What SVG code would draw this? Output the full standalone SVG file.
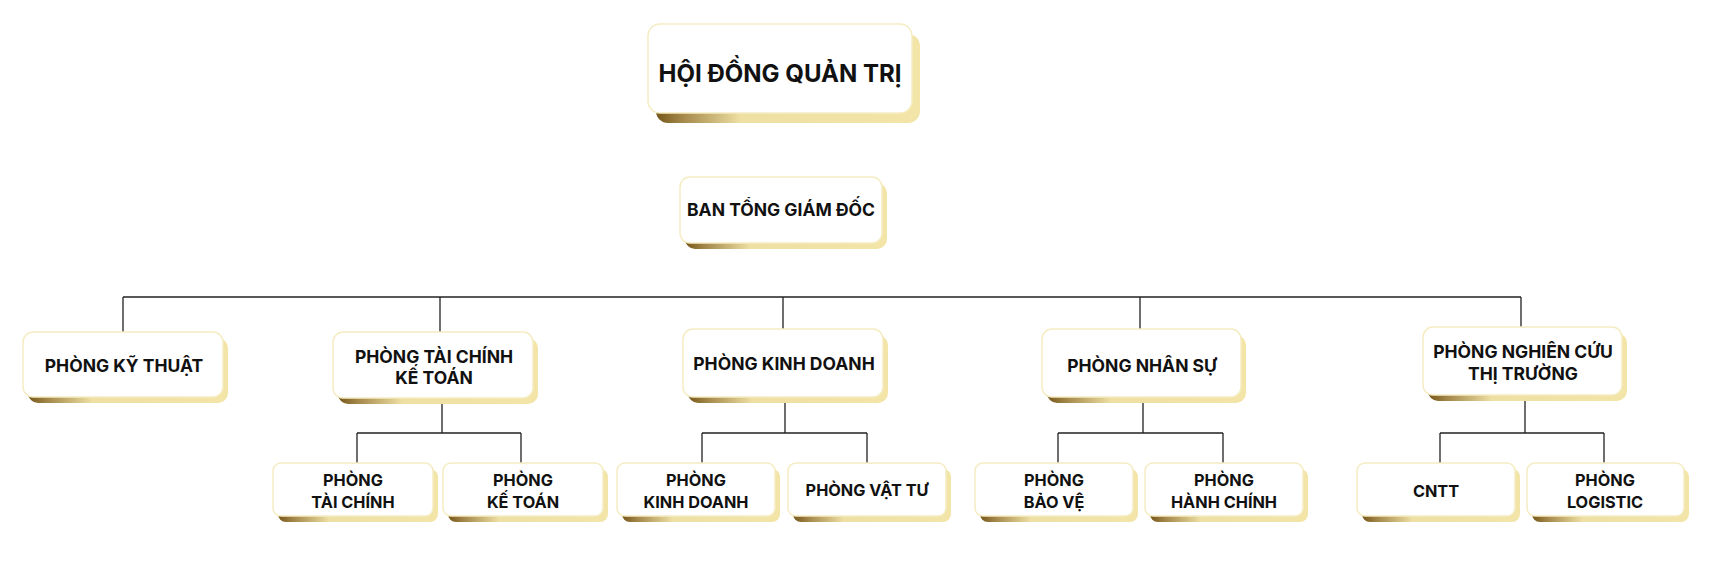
<svg xmlns="http://www.w3.org/2000/svg" width="1718" height="570" viewBox="0 0 1718 570">
<defs>
<linearGradient id="gold" x1="0" y1="0" x2="1" y2="0">
<stop offset="0" stop-color="#76561a"/>
<stop offset="0.1" stop-color="#a4884a"/>
<stop offset="0.32" stop-color="#eedfa2"/>
<stop offset="1" stop-color="#f3e5a8"/>
</linearGradient>
</defs>
<style>
.sh{fill:url(#gold);}
.box{fill:#ffffff;stroke:#f5ecc2;stroke-width:1.5;}
.t{font-family:Inter,"Liberation Sans",sans-serif;font-weight:700;fill:#111;text-anchor:middle;}
.t1{font-size:24px;}
.t2{font-size:17.5px;}
.t3{font-size:17.5px;}
.t4{font-size:16.3px;}
.ln{stroke:#222;stroke-width:1.3;fill:none;}
</style>
<rect width="1718" height="570" fill="#ffffff"/>
<g id="connectors">
<path class="ln" d="M123 297H1521M123 297V332M440 297V332M783 297V329M1140 297V329M1521 297V327"/>
<path class="ln" d="M442 398V433M357 433H521M357 433V463M521 433V463"/>
<path class="ln" d="M785 398V433M702 433H867M702 433V463M867 433V463"/>
<path class="ln" d="M1143 397V433M1058 433H1223M1058 433V463M1223 433V463"/>
<path class="ln" d="M1525 395V433M1440 433H1604M1440 433V463M1604 433V463"/>
</g>
<g id="hdqt">
<rect class="sh" x="656" y="34" width="264" height="89" rx="12"/>
<rect class="box" x="648" y="24" width="264" height="89" rx="12"/>
<text class="t t1" x="780" y="82">HỘI ĐỒNG QUẢN TRỊ</text>
</g>
<g id="ban-tgd">
<rect class="sh" x="685" y="183" width="202" height="66" rx="10"/>
<rect class="box" x="680" y="177" width="202" height="66" rx="10"/>
<text class="t t2" x="781" y="216">BAN TỔNG GIÁM ĐỐC</text>
</g>
<g id="ky-thuat">
<rect class="sh" x="28" y="338" width="200" height="65" rx="10"/>
<rect class="box" x="23" y="332" width="200" height="65" rx="10"/>
<text class="t t3" x="124" y="372">PHÒNG KỸ THUẬT</text>
</g>
<g id="tckt">
<rect class="sh" x="338" y="338" width="200" height="66" rx="10"/>
<rect class="box" x="333" y="332" width="200" height="66" rx="10"/>
<text class="t t3" x="434" y="363">PHÒNG TÀI CHÍNH</text>
<text class="t t3" x="434" y="384">KẾ TOÁN</text>
</g>
<g id="kinh-doanh">
<rect class="sh" x="688" y="335" width="200" height="68" rx="10"/>
<rect class="box" x="683" y="329" width="200" height="68" rx="10"/>
<text class="t t3" x="784" y="370">PHÒNG KINH DOANH</text>
</g>
<g id="nhan-su">
<rect class="sh" x="1047" y="335" width="199" height="68" rx="10"/>
<rect class="box" x="1042" y="329" width="199" height="68" rx="10"/>
<text class="t t3" x="1142" y="372">PHÒNG NHÂN SỰ</text>
</g>
<g id="nctt">
<rect class="sh" x="1428" y="333" width="199" height="68" rx="10"/>
<rect class="box" x="1423" y="327" width="199" height="68" rx="10"/>
<text class="t t3" x="1523" y="358">PHÒNG NGHIÊN CỨU</text>
<text class="t t3" x="1523" y="380">THỊ TRƯỜNG</text>
</g>
<g id="tai-chinh">
<rect class="sh" x="278" y="469" width="160" height="53" rx="8"/>
<rect class="box" x="273" y="463" width="160" height="53" rx="8"/>
<text class="t t4" x="353" y="486">PHÒNG</text>
<text class="t t4" x="353" y="508">TÀI CHÍNH</text>
</g>
<g id="ke-toan">
<rect class="sh" x="448" y="469" width="160" height="53" rx="8"/>
<rect class="box" x="443" y="463" width="160" height="53" rx="8"/>
<text class="t t4" x="523" y="486">PHÒNG</text>
<text class="t t4" x="523" y="508">KẾ TOÁN</text>
</g>
<g id="kinh-doanh-2">
<rect class="sh" x="622" y="469" width="158" height="53" rx="8"/>
<rect class="box" x="617" y="463" width="158" height="53" rx="8"/>
<text class="t t4" x="696" y="486">PHÒNG</text>
<text class="t t4" x="696" y="508">KINH DOANH</text>
</g>
<g id="vat-tu">
<rect class="sh" x="793" y="469" width="158" height="53" rx="8"/>
<rect class="box" x="788" y="463" width="158" height="53" rx="8"/>
<text class="t t4" x="867" y="496">PHÒNG VẬT TƯ</text>
</g>
<g id="bao-ve">
<rect class="sh" x="980" y="469" width="158" height="53" rx="8"/>
<rect class="box" x="975" y="463" width="158" height="53" rx="8"/>
<text class="t t4" x="1054" y="486">PHÒNG</text>
<text class="t t4" x="1054" y="508">BẢO VỆ</text>
</g>
<g id="hanh-chinh">
<rect class="sh" x="1150" y="469" width="158" height="53" rx="8"/>
<rect class="box" x="1145" y="463" width="158" height="53" rx="8"/>
<text class="t t4" x="1224" y="486">PHÒNG</text>
<text class="t t4" x="1224" y="508">HÀNH CHÍNH</text>
</g>
<g id="cntt">
<rect class="sh" x="1362" y="469" width="158" height="53" rx="8"/>
<rect class="box" x="1357" y="463" width="158" height="53" rx="8"/>
<text class="t t4" x="1436" y="497">CNTT</text>
</g>
<g id="logistic">
<rect class="sh" x="1532" y="469" width="157" height="53" rx="8"/>
<rect class="box" x="1527" y="463" width="157" height="53" rx="8"/>
<text class="t t4" x="1605" y="486">PHÒNG</text>
<text class="t t4" x="1605" y="508">LOGISTIC</text>
</g>
</svg>
